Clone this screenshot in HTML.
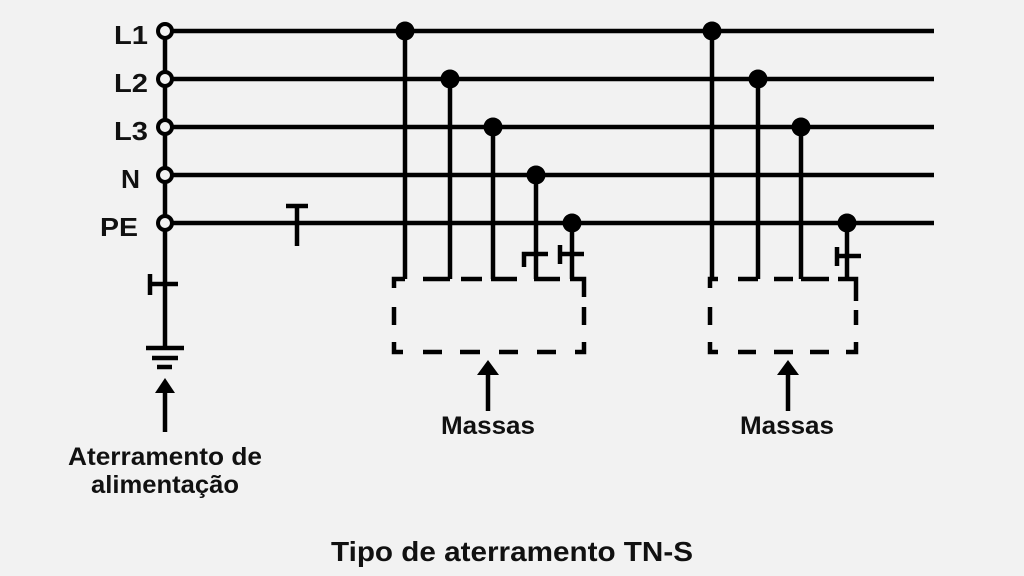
<!DOCTYPE html>
<html><head><meta charset="utf-8"><style>
html,body{margin:0;padding:0;background:#f2f2f2;}
svg{display:block;}
text{font-family:"Liberation Sans",sans-serif;font-weight:bold;fill:#111;}
</style></head><body>
<svg width="1024" height="576" viewBox="0 0 1024 576" xmlns="http://www.w3.org/2000/svg">
<rect width="1024" height="576" fill="#f2f2f2"/>
<g stroke="#000" stroke-width="4.5" fill="none" stroke-linecap="butt">
<line x1="171" y1="31" x2="934" y2="31"/>
<line x1="171" y1="79" x2="934" y2="79"/>
<line x1="171" y1="127" x2="934" y2="127"/>
<line x1="171" y1="175" x2="934" y2="175"/>
<line x1="171" y1="223" x2="934" y2="223"/>
<line x1="165" y1="37" x2="165" y2="73"/>
<line x1="165" y1="85" x2="165" y2="121"/>
<line x1="165" y1="133" x2="165" y2="169"/>
<line x1="165" y1="181" x2="165" y2="217"/>
<line x1="165" y1="229" x2="165" y2="346"/>
<line x1="150" y1="274" x2="150" y2="295"/>
<line x1="150" y1="284" x2="178" y2="284"/>
<line x1="146" y1="348" x2="184" y2="348"/>
<line x1="152" y1="358" x2="178" y2="358"/>
<line x1="157" y1="367" x2="172" y2="367"/>
<line x1="165" y1="384" x2="165" y2="432"/>
<line x1="286" y1="206" x2="308" y2="206"/>
<line x1="297" y1="206" x2="297" y2="246"/>
<line x1="405" y1="31" x2="405" y2="279"/>
<line x1="450" y1="79" x2="450" y2="279"/>
<line x1="493" y1="127" x2="493" y2="279"/>
<line x1="536" y1="175" x2="536" y2="279"/>
<line x1="572" y1="223" x2="572" y2="279"/>
<polyline points="524,267 524,254 548,254"/>
<line x1="560" y1="245" x2="560" y2="264"/>
<line x1="560" y1="254" x2="584" y2="254"/>
<polyline points="394,288 394,279 405,279"/>
<line x1="423" y1="279" x2="450" y2="279"/>
<line x1="461" y1="279" x2="482" y2="279"/>
<line x1="491" y1="279" x2="517" y2="279"/>
<line x1="534" y1="279" x2="560" y2="279"/>
<polyline points="570,279 584,279 584,297"/>
<line x1="394" y1="307" x2="394" y2="325"/>
<line x1="584" y1="307" x2="584" y2="325"/>
<polyline points="394,342 394,352 403,352"/>
<polyline points="575,352 584,352 584,342"/>
<line x1="423" y1="352" x2="442" y2="352"/>
<line x1="460" y1="352" x2="480" y2="352"/>
<line x1="499" y1="352" x2="518" y2="352"/>
<line x1="537" y1="352" x2="556" y2="352"/>
<line x1="712" y1="31" x2="712" y2="279"/>
<line x1="758" y1="79" x2="758" y2="279"/>
<line x1="801" y1="127" x2="801" y2="279"/>
<line x1="847" y1="223" x2="847" y2="279"/>
<line x1="837" y1="247" x2="837" y2="266"/>
<line x1="837" y1="256" x2="861" y2="256"/>
<polyline points="710,288 710,279 718,279"/>
<line x1="738" y1="279" x2="758" y2="279"/>
<line x1="774" y1="279" x2="793" y2="279"/>
<line x1="801" y1="279" x2="829" y2="279"/>
<polyline points="838,279 856,279 856,301"/>
<line x1="710" y1="307" x2="710" y2="325"/>
<line x1="856" y1="310" x2="856" y2="325"/>
<polyline points="710,342 710,352 718,352"/>
<polyline points="846,352 856,352 856,342"/>
<line x1="738" y1="352" x2="756" y2="352"/>
<line x1="774" y1="352" x2="793" y2="352"/>
<line x1="810" y1="352" x2="829" y2="352"/>
<line x1="488" y1="370" x2="488" y2="411"/>
<line x1="788" y1="370" x2="788" y2="411"/>
</g>
<g fill="#000">
<polygon points="165,378 155,393 175,393"/>
<polygon points="488,360 477,375 499,375"/>
<polygon points="788,360 777,375 799,375"/>
<circle cx="405" cy="31" r="9.5"/>
<circle cx="450" cy="79" r="9.5"/>
<circle cx="493" cy="127" r="9.5"/>
<circle cx="536" cy="175" r="9.5"/>
<circle cx="572" cy="223" r="9.5"/>
<circle cx="712" cy="31" r="9.5"/>
<circle cx="758" cy="79" r="9.5"/>
<circle cx="801" cy="127" r="9.5"/>
<circle cx="847" cy="223" r="9.5"/>
</g>
<g fill="#f2f2f2" stroke="#000" stroke-width="4">
<circle cx="165" cy="31" r="7"/>
<circle cx="165" cy="79" r="7"/>
<circle cx="165" cy="127" r="7"/>
<circle cx="165" cy="175" r="7"/>
<circle cx="165" cy="223" r="7"/>
</g>
<g font-size="26" text-anchor="end">
<text x="148" y="44" textLength="34" lengthAdjust="spacingAndGlyphs">L1</text>
<text x="148" y="92" textLength="34" lengthAdjust="spacingAndGlyphs">L2</text>
<text x="148" y="140" textLength="34" lengthAdjust="spacingAndGlyphs">L3</text>
<text x="140" y="188" textLength="19" lengthAdjust="spacingAndGlyphs">N</text>
<text x="138" y="236" textLength="38" lengthAdjust="spacingAndGlyphs">PE</text>
</g>
<g font-size="25" text-anchor="middle">
<text x="488" y="434" textLength="94" lengthAdjust="spacingAndGlyphs">Massas</text>
<text x="787" y="434" textLength="94" lengthAdjust="spacingAndGlyphs">Massas</text>
<text x="165" y="465" textLength="194" lengthAdjust="spacingAndGlyphs">Aterramento de</text>
<text x="165" y="493" textLength="148" lengthAdjust="spacingAndGlyphs">alimentação</text>
<text x="512" y="561" font-size="28" textLength="362" lengthAdjust="spacingAndGlyphs">Tipo de aterramento TN-S</text>
</g>
</svg>
</body></html>
